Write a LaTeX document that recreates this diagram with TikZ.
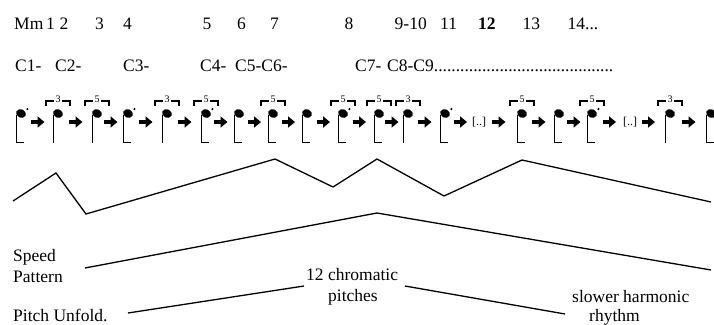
\documentclass[tikz,border=0pt]{standalone}
\usepackage{fontspec}
\setmainfont{Liberation Serif}
\usetikzlibrary{arrows.meta,calc}
\tikzset{
  lab/.style={font=\fontsize{17.5}{20}\selectfont, anchor=base west, inner sep=0pt},
  curve/.style={line width=1.3pt, line join=miter},
  stemline/.style={line width=1.2pt},
  tupline/.style={line width=1.1pt},
  tupnum/.style={font=\fontsize{10}{10}\selectfont, inner sep=0.6pt},
  notearrow/.style={line width=3.6pt, -{Triangle[length=7pt,width=11pt]}},
  brk/.style={font=\fontsize{12}{12}\selectfont, inner sep=0pt},
}
\newcommand\mynote[5]{% name, x, foot, dot, tuplet
  \coordinate (#1) at (#2,113.5);
  \begin{scope}[shift={(#1)}]
    \fill[rotate=-25] (0,0) ellipse [x radius=5, y radius=4.3];
    \ifnum#3=1
      \draw[stemline] (-4.3,1.5) -- (-4.3,29) -- (3,29);
    \else
      \draw[stemline] (-4.3,1.5) -- (-4.3,29.5);
    \fi
    \ifnum#4=1 \fill (6.4,-4.4) circle (1.2); \fi
    \ifx&#5&\else
      \draw[tupline] (-12,-7.5) -- (-12,-12.5) -- (-4,-12.5)
                     (4,-12.5) -- (12,-12.5) -- (12,-7.5);
      \node[tupnum] (#1t) at (0,-14) {#5};
    \fi
  \end{scope}}
\newcommand\arr[2]{\draw[notearrow] ($(#1)!0.5!(#2)+(-8.5,8.5)$) -- ($(#1)!0.5!(#2)+(5,8.5)$);}
\begin{document}
\begin{tikzpicture}[x=1pt,y=-1pt]
\useasboundingbox (0,0) rectangle (714,324);
% measure row
\node[lab] (mm) at (14,29) {Mm};
\node[lab] (m1) at (46,29) {1};
\node[lab] (m2) at (59.5,29) {2};
\node[lab] (m3) at (95,29) {3};
\node[lab] (m4) at (123,29) {4};
\node[lab] (m5) at (202.5,29) {5};
\node[lab] (m6) at (237,29) {6};
\node[lab] (m7) at (270,29) {7};
\node[lab] (m8) at (344.5,29) {8};
\node[lab] (m9) at (394.5,29) {9-10};
\node[lab] (m11) at (440,29) {11};
\node[lab] (m12) at (478,29) {\textbf{12}};
\node[lab] (m13) at (522.5,29) {13};
\node[lab] (m14) at (567.5,29) {14...};
% chord row
\node[lab] (c1) at (15,71) {C1-};
\node[lab] (c2) at (55,71) {C2-};
\node[lab] (c3) at (123,71) {C3-};
\node[lab] (c4) at (200,71) {C4-};
\node[lab] (c56) at (235,71) {C5-C6-};
\node[lab] (c7) at (355,71) {C7-};
\node[lab] (c89) at (387,71) {C8-C9.........................................};
% notes
\mynote{n1}{21}{1}{1}{}
\mynote{n2}{58}{0}{0}{3}
\mynote{n3}{97}{0}{0}{5}
\mynote{n4}{128}{1}{1}{}
\mynote{n5}{167}{0}{0}{3}
\mynote{n6}{206}{1}{1}{5}
\mynote{n7}{239}{1}{0}{}
\mynote{n8}{273}{1}{0}{5}
\mynote{n9}{307}{1}{0}{}
\mynote{n10}{343}{1}{1}{5}
\mynote{n11}{379}{1}{0}{5}
\mynote{n12}{408}{0}{0}{3}
\mynote{n13}{445}{1}{1}{}
\coordinate (u1) at (479,113.5);
\node[brk] (u1t) at ($(u1)+(0,8.5)$) {[..]};
\mynote{n14}{522}{1}{0}{5}
\mynote{n15}{559}{1}{0}{}
\mynote{n16}{592}{1}{1}{5}
\coordinate (u2) at (630,113.5);
\node[brk] (u2t) at ($(u2)+(0,8.5)$) {[..]};
\mynote{n17}{670}{0}{0}{3}
\mynote{n18}{711}{1}{0}{}
\arr{n1}{n2}\arr{n2}{n3}\arr{n3}{n4}\arr{n4}{n5}\arr{n5}{n6}
\arr{n6}{n7}\arr{n7}{n8}\arr{n8}{n9}\arr{n9}{n10}\arr{n10}{n11}
\arr{n11}{n12}\arr{n12}{n13}\arr{n13}{u1}\arr{u1}{n14}\arr{n14}{n15}
\arr{n15}{n16}\arr{n16}{u2}\arr{u2}{n17}\arr{n17}{n18}
% zigzag
\coordinate (z1) at (13,201);
\coordinate (z2) at (56,173);
\coordinate (z3) at (86,214);
\coordinate (z4) at (275,159);
\coordinate (z5) at (333,187);
\coordinate (z6) at (377,159);
\coordinate (z7) at (444,196);
\coordinate (z8) at (522,160);
\coordinate (z9) at (711,202);
\draw[curve] (z1) -- (z2) -- (z3) -- (z4) -- (z5) -- (z6) -- (z7) -- (z8) -- (z9);
% speed pattern
\coordinate (s1) at (85,268);
\coordinate (s2) at (377,213);
\coordinate (s3) at (711,270);
\draw[curve] (s1) -- (s2) -- (s3);
% labels
\node[lab] (speed) at (13,261) {Speed};
\node[lab] (pattern) at (13,282) {Pattern};
\node[lab] (pitch) at (13,321) {Pitch Unfold.};
\node[lab] (chrom) at (306,280) {12 chromatic};
\node[lab] (pitches) at (328,301) {pitches};
\node[lab] (slower) at (572,302) {slower harmonic};
\node[lab] (rhythm) at (589,321) {rhythm};
% pitch unfold lines
\coordinate (p1) at (128,313);
\coordinate (p2) at (304,286);
\coordinate (p3) at (405,286);
\coordinate (p4) at (565,314);
\draw[curve] (p1) -- (p2);
\draw[curve] (p3) -- (p4);
\end{tikzpicture}
\end{document}
